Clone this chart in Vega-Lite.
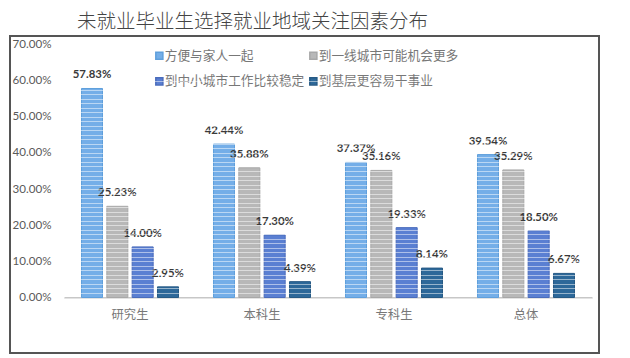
{"$schema":"https://vega.github.io/schema/vega-lite/v6.json","width":589,"height":317,"autosize":{"type":"none"},"padding":{"left":10,"top":36,"right":31,"bottom":5},"background":"#ffffff","title":{"text":"未就业毕业生选择就业地域关注因素分布","anchor":"start","frame":"group","dx":67,"offset":4,"fontSize":19.5,"font":"Noto Sans CJK SC","fontWeight":300,"color":"#444444"},"config":{"view":{"stroke":"#555555","strokeWidth":2}},"data":{"values":[{"g":"研究生","s":"方便与家人一起","v":0.5783},{"g":"研究生","s":"到一线城市可能机会更多","v":0.2523},{"g":"研究生","s":"到中小城市工作比较稳定","v":0.14},{"g":"研究生","s":"到基层更容易干事业","v":0.0295},{"g":"本科生","s":"方便与家人一起","v":0.4244},{"g":"本科生","s":"到一线城市可能机会更多","v":0.3588},{"g":"本科生","s":"到中小城市工作比较稳定","v":0.173},{"g":"本科生","s":"到基层更容易干事业","v":0.0439},{"g":"专科生","s":"方便与家人一起","v":0.3737},{"g":"专科生","s":"到一线城市可能机会更多","v":0.3516},{"g":"专科生","s":"到中小城市工作比较稳定","v":0.1933},{"g":"专科生","s":"到基层更容易干事业","v":0.0814},{"g":"总体","s":"方便与家人一起","v":0.3954},{"g":"总体","s":"到一线城市可能机会更多","v":0.3529},{"g":"总体","s":"到中小城市工作比较稳定","v":0.185},{"g":"总体","s":"到基层更容易干事业","v":0.0667}]},"encoding":{"x":{"field":"g","type":"nominal","sort":["研究生","本科生","专科生","总体"],"scale":{"range":[54,582],"paddingInner":0.265,"paddingOuter":0.1325},"axis":{"title":null,"orient":"bottom","offset":-55.5,"labelAngle":0,"ticks":false,"domainColor":"#b5b5b5","domainWidth":1.5,"labelFont":"Noto Sans CJK SC","labelFontSize":12.3,"labelColor":"#777777","labelPadding":11}},"xOffset":{"field":"s","type":"nominal","sort":["方便与家人一起","到一线城市可能机会更多","到中小城市工作比较稳定","到基层更容易干事业"],"scale":{"paddingInner":0.17,"paddingOuter":0}},"y":{"field":"v","type":"quantitative","scale":{"domain":[0,0.7],"range":[261.5,8.5]},"axis":{"title":null,"orient":"left","offset":-582,"domain":false,"grid":false,"tickSize":528,"tickColor":"#ffffff","tickOpacity":0.5,"tickWidth":1,"zindex":1,"values":[0,0.0125,0.025,0.0375,0.05,0.0625,0.075,0.0875,0.1,0.1125,0.125,0.1375,0.15,0.1625,0.175,0.1875,0.2,0.2125,0.225,0.2375,0.25,0.2625,0.275,0.2875,0.3,0.3125,0.325,0.3375,0.35,0.3625,0.375,0.3875,0.4,0.4125,0.425,0.4375,0.45,0.4625,0.475,0.4875,0.5,0.5125,0.525,0.5375,0.55,0.5625,0.575,0.6,0.7],"labelExpr":"abs(datum.value * 10 - round(datum.value * 10)) < 0.001 ? format(datum.value, '.2%') : ''","labelOverlap":false,"labelFlush":false,"labelFont":"Lato","labelFontSize":11.6,"labelColor":"#5a5a5a","labelPadding":13}}},"layer":[{"mark":{"type":"bar","strokeWidth":1},"encoding":{"color":{"field":"s","type":"nominal","sort":["方便与家人一起","到一线城市可能机会更多","到中小城市工作比较稳定","到基层更容易干事业"],"scale":{"domain":["方便与家人一起","到一线城市可能机会更多","到中小城市工作比较稳定","到基层更容易干事业"],"range":["#74aee8","#b8b8b8","#5a7fd2","#2d6899"]},"legend":{"title":null,"orient":"none","legendX":143,"legendY":13,"columns":2,"direction":"horizontal","symbolType":"square","symbolSize":50,"labelFont":"Noto Sans CJK SC","labelFontSize":12.7,"labelColor":"#777777","rowPadding":11,"columnPadding":1,"labelOffset":-1,"labelLimit":200}},"stroke":{"field":"s","type":"nominal","scale":{"domain":["方便与家人一起","到一线城市可能机会更多","到中小城市工作比较稳定","到基层更容易干事业"],"range":["#5f9fdc","#a8a8a8","#4a6cbc","#265a85"]},"legend":null}}},{"mark":{"type":"text","baseline":"middle","dy":-13,"font":"Lato","fontSize":11.4,"fontWeight":"bold","color":"#3a3a3a"},"encoding":{"text":{"field":"v","type":"quantitative","format":".2%"}}}]}
